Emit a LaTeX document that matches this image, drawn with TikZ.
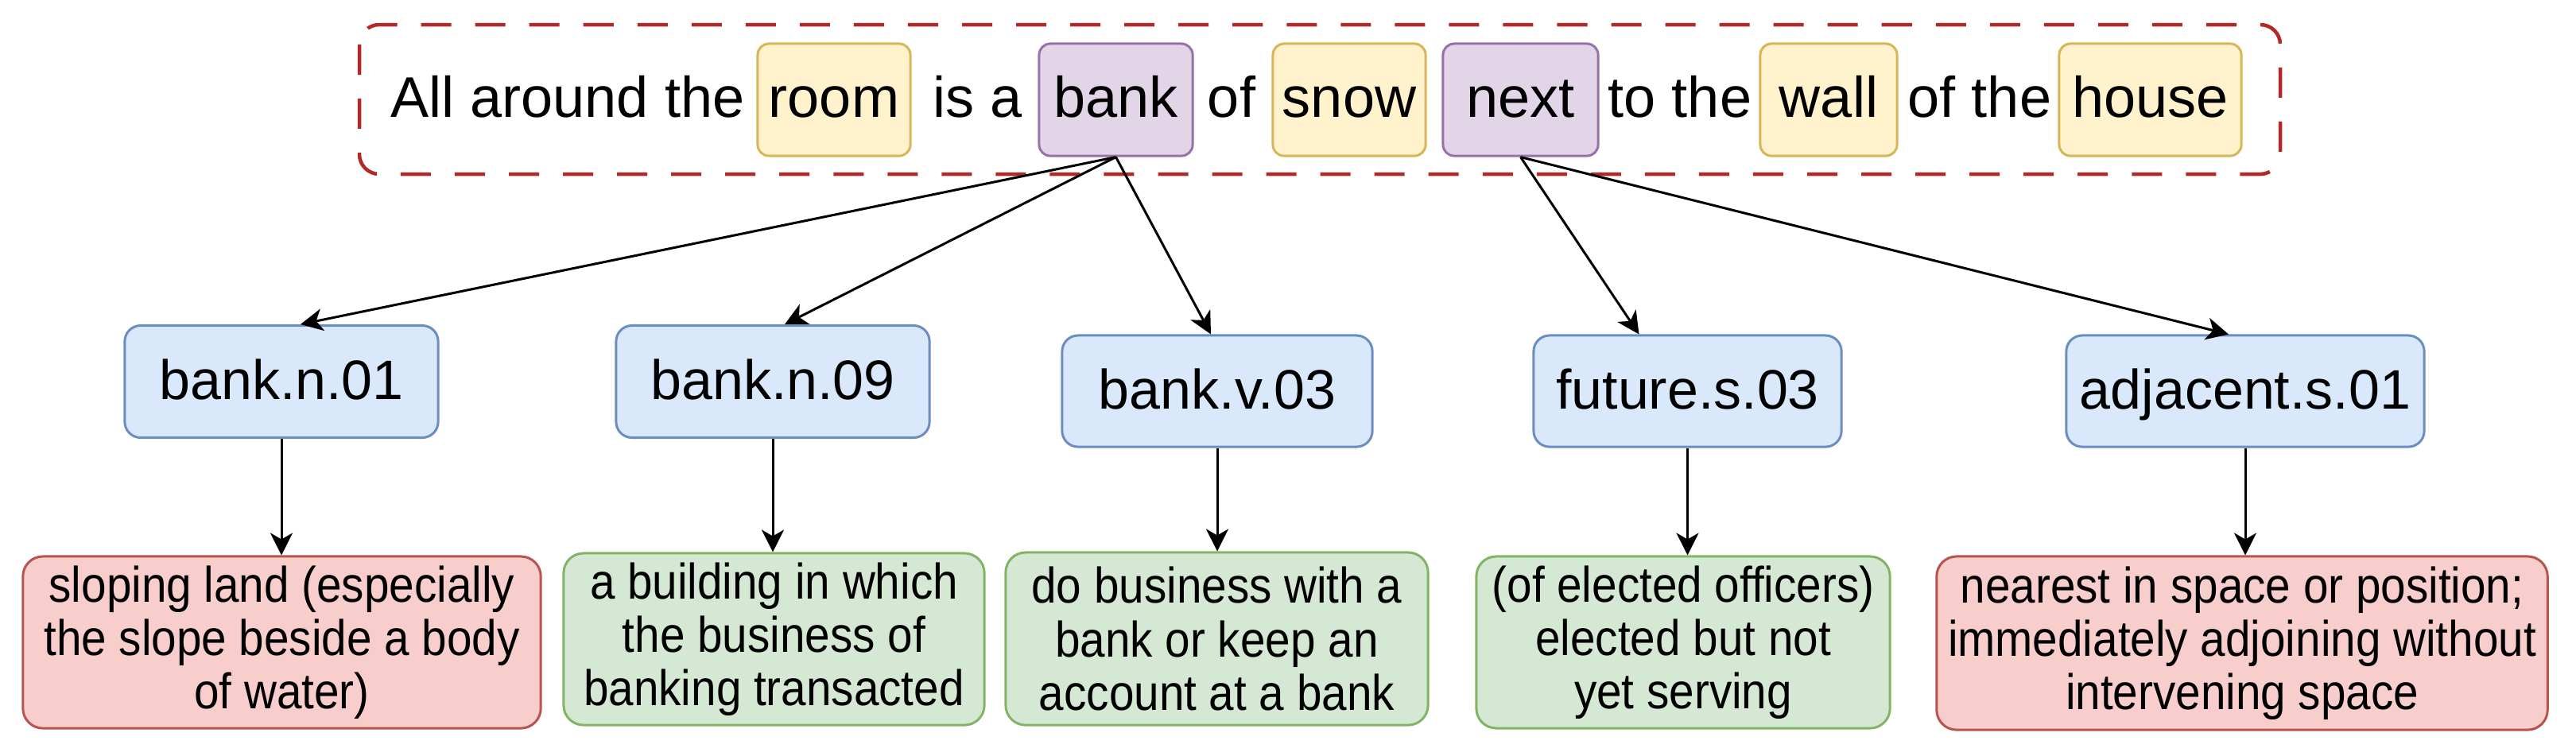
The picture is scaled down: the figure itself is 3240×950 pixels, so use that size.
\documentclass[tikz,border=0pt]{standalone}
\usepackage{fontspec}
\setmainfont{Liberation Sans}
\newfontfamily\myGlossFam[FakeStretch=0.9]{Liberation Sans}
\usetikzlibrary{arrows.meta}
\definecolor{yfill}{HTML}{FFF2CC}
\definecolor{ystroke}{HTML}{D6B656}
\definecolor{pfill}{HTML}{E1D5E7}
\definecolor{pstroke}{HTML}{9673A6}
\definecolor{bfill}{HTML}{DAE8FC}
\definecolor{bstroke}{HTML}{6C8EBF}
\definecolor{gfill}{HTML}{D5E8D4}
\definecolor{gstroke}{HTML}{82B366}
\definecolor{rfill}{HTML}{F8CECC}
\definecolor{rstroke}{HTML}{B85450}
\definecolor{dashred}{RGB}{180,40,40}
\newcommand{\myWordFont}{\fontsize{20.5}{24}\selectfont}
\newcommand{\mySenseFont}{\fontsize{19.9}{24}\selectfont}
\newcommand{\myGlossFont}{\myGlossFam\fontsize{17.9}{19.1}\selectfont}
\tikzset{
  word/.style={draw, line width=0.03cm, rounded corners=0.14cm, minimum height=1.41cm,
    inner sep=0pt, text height=0.52cm, text depth=0.09cm, font=\myWordFont},
  yword/.style={word, fill=yfill, draw=ystroke},
  pword/.style={word, fill=pfill, draw=pstroke},
  plain/.style={anchor=base, inner sep=0pt, font=\myWordFont},
  sense/.style={draw=bstroke, fill=bfill, line width=0.03cm, rounded corners=0.2cm,
    minimum height=1.41cm, inner sep=0pt, text height=0.52cm, text depth=0.08cm, font=\mySenseFont},
  gloss/.style={line width=0.03cm, rounded corners=0.25cm, minimum height=2.16cm,
    inner sep=0pt, align=center, font=\myGlossFont},
  gg/.style={gloss, fill=gfill, draw=gstroke},
  rg/.style={gloss, fill=rfill, draw=rstroke},
  arr/.style={-{Stealth[length=0.28cm,width=0.28cm,inset=0.08cm]}, line width=0.03cm, draw=black},
  outerbox/.style={draw=dashred, line width=0.045cm, rounded corners=0.25cm, dash pattern=on 0.38cm off 0.30cm}
}
\begin{document}
\begin{tikzpicture}[x=0.01cm,y=-0.01cm]
\useasboundingbox (0,0) rectangle (3240,950);
% sentence frame
\draw[outerbox] (452,31) rectangle (2868,219);
% sentence words
\node[plain] (w1) at (714,147) {All around the};
\node[yword, minimum width=1.92cm] (room) at (1049,125.5) {room};
\node[plain] (w2) at (1230,147) {is a};
\node[pword, minimum width=1.93cm] (bank) at (1403.5,125.5) {bank};
\node[plain] (w3) at (1549,147) {of};
\node[yword, minimum width=1.92cm] (snow) at (1697,125.5) {snow};
\node[pword, minimum width=1.95cm] (next) at (1912.5,125.5) {next};
\node[plain] (w4) at (2113,147) {to the};
\node[yword, minimum width=1.72cm] (wall) at (2300,125.5) {wall};
\node[plain] (w5) at (2490,147) {of the};
\node[yword, minimum width=2.29cm] (house) at (2704.5,125.5) {house};
% senses
\node[sense, minimum width=3.94cm] (bn01) at (354,480) {bank.n.01};
\node[sense, minimum width=3.94cm] (bn09) at (972,480) {bank.n.09};
\node[sense, minimum width=3.90cm, minimum height=1.40cm] (bv03) at (1531,492) {bank.v.03};
\node[sense, minimum width=3.87cm, minimum height=1.40cm] (fs03) at (2122.5,492) {future.s.03};
\node[sense, minimum width=4.50cm, minimum height=1.40cm] (as01) at (2824,492) {adjacent.s.01};
% glosses
\node[rg, minimum width=6.51cm] (d1) at (354.5,808) {sloping land (especially\\the slope beside a body\\of water)};
\node[gg, minimum width=5.29cm] (d2) at (973.5,804) {a building in which\\the business of\\banking transacted};
\node[gg, minimum width=5.31cm, minimum height=2.17cm] (d3) at (1530.5,803.5) {do business with a\\bank or keep an\\account at a bank};
\node[gg, minimum width=5.20cm] (d4) at (2117,808) {(of elected officers)\\elected but not\\yet serving};
\node[rg, minimum width=7.68cm, minimum height=2.18cm] (d5) at (2820,809) {nearest in space or position;\\immediately adjoining without\\intervening space};
% word -> sense arrows
\draw[arr] (bank.south) -- ([xshift=0.24cm]bn01.north);
\draw[arr] (bank.south) -- ([xshift=0.15cm]bn09.north);
\draw[arr] (bank.south) -- ([xshift=-0.08cm]bv03.north);
\draw[arr] (next.south) -- ([xshift=-0.61cm]fs03.north);
\draw[arr] (next.south) -- ([xshift=-0.21cm]as01.north);
% sense -> gloss arrows
\draw[arr] (bn01.south) -- (bn01.south |- d1.north);
\draw[arr] (bn09.south) -- (bn09.south |- d2.north);
\draw[arr] (bv03.south) -- (bv03.south |- d3.north);
\draw[arr] (fs03.south) -- (fs03.south |- d4.north);
\draw[arr] (as01.south) -- (as01.south |- d5.north);
\end{tikzpicture}
\end{document}
